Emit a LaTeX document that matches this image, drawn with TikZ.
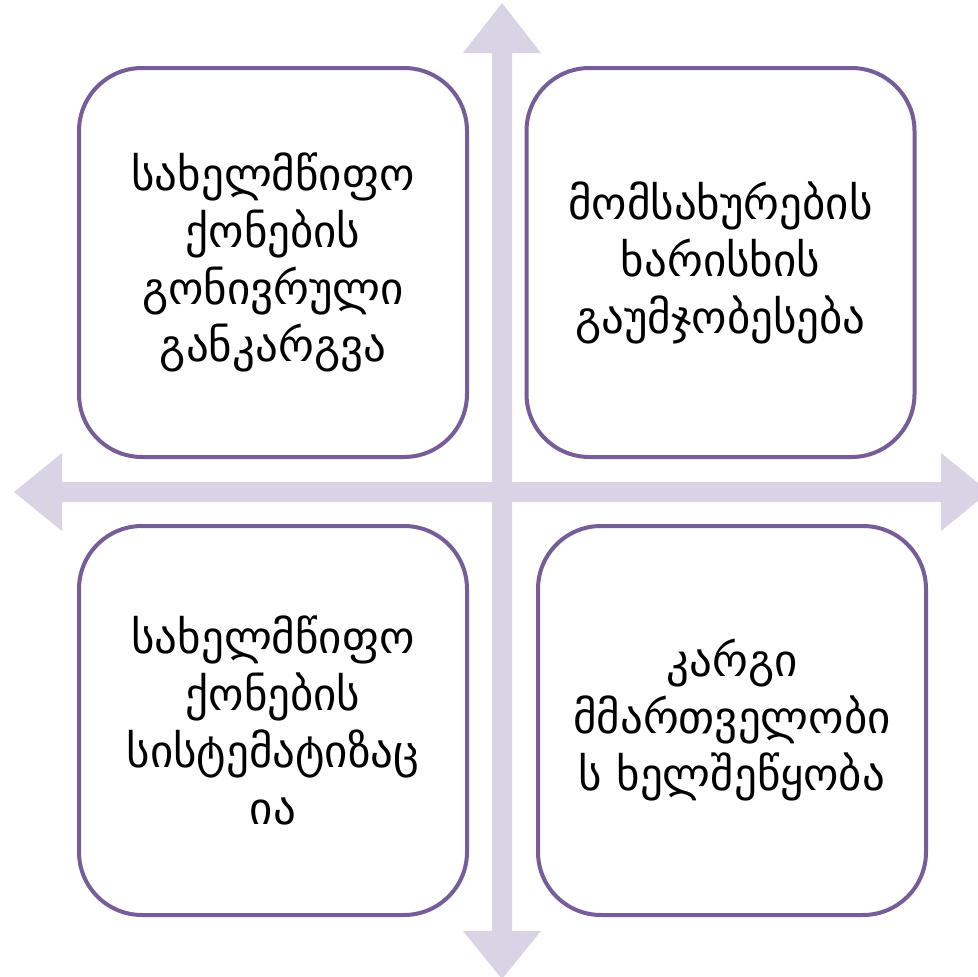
\documentclass[tikz,border=0pt]{standalone}
\usepackage{fontspec}
\newfontfamily\georgian[Script=Georgian]{DejaVu Sans}
\definecolor{boxline}{RGB}{118,92,153}
\definecolor{crossfill}{RGB}{216,212,229}
\tikzset{
  quadbox/.style={draw=boxline, line width=4pt, fill=white, rounded corners=63pt,
    minimum width=388pt, minimum height=389pt, align=center,
    font=\georgian\fontsize{45}{57}\selectfont, inner sep=0pt}
}
\begin{document}
\begin{tikzpicture}[x=1pt,y=-1pt]
\useasboundingbox (0,0) rectangle (977,977);
\fill[crossfill] (492,53) -- (463,53) -- (502,3) -- (541,53) -- (512,53) -- (512,482)
  -- (941,482) -- (941,453) -- (989,492) -- (941,531) -- (941,502) -- (512,502)
  -- (512,931) -- (541,931) -- (502,979) -- (463,931) -- (492,931) -- (492,502)
  -- (62,502) -- (62,531) -- (14,492) -- (62,453) -- (62,482) -- (492,482) -- cycle;
\node[quadbox] (govmanage) at (273,262.5) {სახელმწიფო\\ქონების\\გონივრული\\განკარგვა};
\node[quadbox] (service) at (720.5,262.5) {მომსახურების\\ხარისხის\\გაუმჯობესება};
\node[quadbox] (govsystem) at (273,720.5) {სახელმწიფო\\ქონების\\სისტემატიზაც\\ია};
\node[quadbox] (goodgov) at (732,720.5) {კარგი\\მმართველობი\\ს ხელშეწყობა};
\end{tikzpicture}
\end{document}
